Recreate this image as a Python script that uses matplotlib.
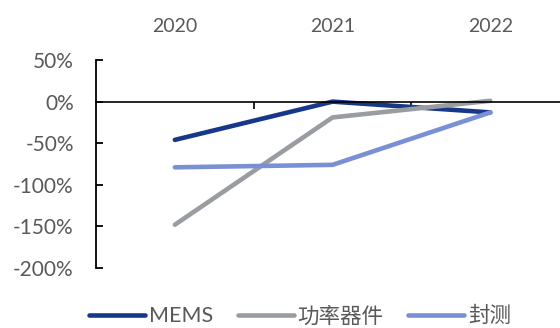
import matplotlib
matplotlib.use('Agg')
import matplotlib.pyplot as plt
from matplotlib.ticker import FuncFormatter

# Values (percent)
years = ['2020', '2021', '2022']
mems = [-46, 0, -13]
power = [-148, -19, 1]
packaging = [-79, -76, -13]
names = ['MEMS', '功率器件', '封测']
colours = ['#16378A', '#999DA2', '#7A90D5']

plt.rcParams['font.family'] = ['Lato', 'Noto Sans CJK SC', 'DejaVu Sans']
TEXT = '#595959'

fig = plt.figure(figsize=(5.6, 3.28), dpi=100)
ax = fig.add_axes([0.1714, 0.183, 0.845, 0.634])

x = range(len(years))
for vals, name, col in zip([mems, power, packaging], names, colours):
    ax.plot(x, vals, color=col, lw=3.3, label=name, solid_capstyle='round')

ax.set_xlim(-0.5, 2.5)
ax.set_ylim(-200, 50)
ax.set_yticks([50, 0, -50, -100, -150, -200])
ax.yaxis.set_major_formatter(FuncFormatter(lambda v, p: f'{v:.0f}%'))

ax.spines['top'].set_visible(False)
ax.spines['right'].set_visible(False)
ax.spines['bottom'].set_position(('data', 0))
ax.spines['left'].set_linewidth(1.3)
ax.spines['bottom'].set_linewidth(1.2)
ax.spines['left'].set_zorder(0.5)

ax.tick_params(axis='y', direction='in', length=5, width=1.3, pad=16,
               labelsize=15, labelcolor=TEXT)
ax.set_xticks(list(x))
ax.set_xticklabels(years)
ax.set_xticks([0.5, 1.5], minor=True)
ax.tick_params(axis='x', which='major', length=0, labeltop=True,
               labelbottom=False, top=False, bottom=False, pad=18,
               labelsize=14, labelcolor=TEXT)
ax.tick_params(axis='x', which='minor', direction='out', length=5,
               width=1.2, top=False, bottom=True)

leg = fig.legend(loc='center', bbox_to_anchor=(0.536, 0.036), ncol=3,
                 frameon=False, fontsize=15.5, handlelength=2.6,
                 handletextpad=0.18, columnspacing=1.15)
for t in leg.get_texts():
    t.set_color(TEXT)

fig.savefig('out.png', dpi=100)
